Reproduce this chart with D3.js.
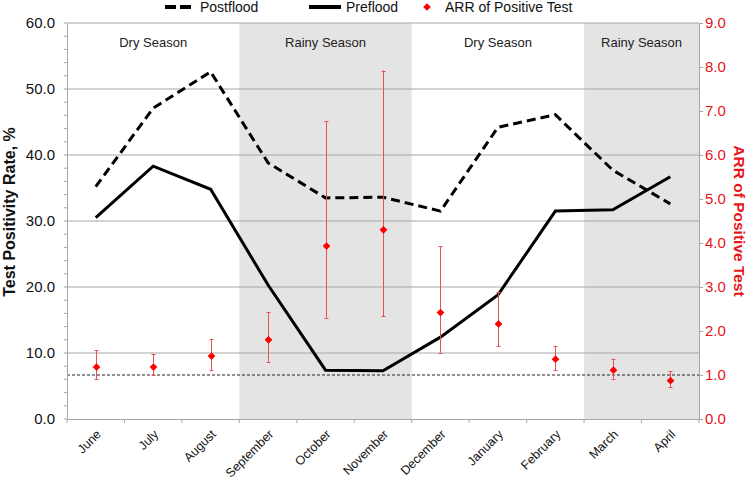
<!DOCTYPE html>
<html><head><meta charset="utf-8">
<script src="https://cdn.jsdelivr.net/npm/d3@7"></script>
<style>body{margin:0;background:#fff}svg{display:block;font-family:"Liberation Sans",Arial,sans-serif}</style>
</head><body><svg id="c" width="750" height="481"></svg>
<script>
const months = ["June","July","August","September","October","November","December","January","February","March","April"];
const postflood = [35.2,47.1,52.6,38.8,33.5,33.6,31.5,44.2,46.1,37.7,32.6];
const preflood = [30.5,38.3,34.8,20.3,7.4,7.3,12.4,18.8,31.5,31.7,36.7];
const arr = [1.18,1.18,1.43,1.80,3.93,4.30,2.42,2.16,1.36,1.11,0.87];
const arrLow = [0.91,1.00,1.11,1.30,2.30,2.34,1.51,1.66,1.11,0.92,0.73];
const arrHigh = [1.57,1.48,1.82,2.43,6.77,7.92,3.93,2.89,1.66,1.37,1.08];
const seasons = [
  {label:"Dry Season", from:"June", to:"August", shaded:false},
  {label:"Rainy Season", from:"September", to:"November", shaded:true},
  {label:"Dry Season", from:"December", to:"February", shaded:false},
  {label:"Rainy Season", from:"March", to:"April", shaded:true}
];
const leftTicks = [0,10,20,30,40,50,60];
const rightTicks = [0,1,2,3,4,5,6,7,8,9];
const refLine = 1.0;

const svg = d3.select("#c");
const L = 67, R = 699, T = 23, B = 419;
const x = d3.scaleBand().domain(months).range([L,R]).padding(0);
const y = d3.scaleLinear().domain([0,60]).range([B,T]);
const y2 = d3.scaleLinear().domain([0,9]).range([B,T]);
const cx = m => x(m) + x.bandwidth()/2;

// shaded seasons
seasons.filter(s=>s.shaded).forEach(s=>{
  svg.append("rect").attr("x",x(s.from)).attr("y",T)
    .attr("width",x(s.to)+x.bandwidth()-x(s.from)).attr("height",B-T)
    .attr("fill","#e4e4e4");
});
// gridlines
svg.append("g").selectAll("line").data(leftTicks.filter(d=>d>0)).join("line")
  .attr("x1",L).attr("x2",R).attr("y1",d=>y(d)).attr("y2",d=>y(d))
  .attr("stroke","#a6a6a6").attr("stroke-width",1);
// season labels
svg.append("g").selectAll("text").data(seasons).join("text")
  .attr("x",s=>(x(s.from)+x(s.to)+x.bandwidth())/2).attr("y",47)
  .attr("text-anchor","middle").attr("font-size",13).attr("fill","#222")
  .text(s=>s.label);
// ref line
svg.append("line").attr("x1",L).attr("x2",R).attr("y1",y2(refLine)).attr("y2",y2(refLine))
  .attr("stroke","#222").attr("stroke-width",1).attr("stroke-dasharray","3,2");

// left axis
const la = svg.append("g").attr("transform",`translate(${L},0)`)
  .call(d3.axisLeft(y).tickValues(leftTicks).tickFormat(d3.format(".1f")).tickSize(0).tickPadding(12));
la.select(".domain").attr("stroke","#a6a6a6");
la.selectAll("text").attr("font-size",15).attr("fill","#111").attr("font-family","Liberation Sans, Arial");
// minor ticks
svg.append("g").selectAll("line").data(d3.range(0,61,2)).join("line")
  .attr("x1",L-3).attr("x2",L).attr("y1",d=>y(d)).attr("y2",d=>y(d))
  .attr("stroke","#a6a6a6");

// right axis
const ra = svg.append("g").attr("transform",`translate(${R},0)`)
  .call(d3.axisRight(y2).tickValues(rightTicks).tickFormat(d3.format(".1f")).tickSize(4).tickPadding(2));
ra.select(".domain").attr("stroke","#a6a6a6");
ra.selectAll(".tick line").attr("stroke","#a6a6a6");
ra.selectAll("text").attr("font-size",15).attr("fill","#e8141a").attr("font-family","Liberation Sans, Arial");

// bottom axis
const ba = svg.append("g").attr("transform",`translate(0,${B})`)
  .call(d3.axisBottom(x).tickSize(0).tickPadding(0));
ba.select(".domain").attr("stroke","#a6a6a6");
ba.selectAll(".tick text").attr("font-size",12.5).attr("fill","#111")
  .attr("text-anchor","end").attr("dy",0).attr("y",0)
  .attr("transform","translate(6,16) rotate(-45)");
svg.append("g").selectAll("line").data(d3.range(months.length+1)).join("line")
  .attr("x1",i=>L+i*x.bandwidth()).attr("x2",i=>L+i*x.bandwidth())
  .attr("y1",B).attr("y2",B+4).attr("stroke","#a6a6a6");

// axis titles
svg.append("text").attr("transform",`translate(14.5,212) rotate(-90)`)
  .attr("text-anchor","middle").attr("font-weight","bold").attr("font-size",16).attr("fill","#111")
  .text("Test Positivity Rate, %");
svg.append("text").attr("transform",`translate(734,221) rotate(90)`)
  .attr("text-anchor","middle").attr("font-weight","bold").attr("font-size",15.5).attr("fill","#e8141a")
  .text("ARR of Positive Test");

// lines
const line = d3.line().x((d,i)=>cx(months[i])).y(d=>y(d));
svg.append("path").datum(postflood).attr("d",line).attr("fill","none")
  .attr("stroke","#000").attr("stroke-width",3).attr("stroke-dasharray","9,5");
svg.append("path").datum(preflood).attr("d",line).attr("fill","none")
  .attr("stroke","#000").attr("stroke-width",3);

// error bars
const eb = svg.append("g");
months.forEach((m,i)=>{
  const X = Math.round(cx(m)) + 0.5;
  eb.append("line").attr("x1",X).attr("x2",X).attr("y1",y2(arrLow[i])).attr("y2",y2(arrHigh[i]))
    .attr("stroke","#ea4f57").attr("stroke-width",1);
  [arrLow[i],arrHigh[i]].forEach(v=>eb.append("line").attr("x1",X-2).attr("x2",X+2)
    .attr("y1",Math.round(y2(v))+0.5).attr("y2",Math.round(y2(v))+0.5).attr("stroke","#ea4f57").attr("stroke-width",1));
});
svg.append("g").selectAll("path").data(arr).join("path")
  .attr("transform",(d,i)=>`translate(${Math.round(cx(months[i]))+0.5},${y2(d)}) rotate(45)`)
  .attr("d",d3.symbol().type(d3.symbolSquare).size(30)).attr("fill","#f00");

// legend
const lg = svg.append("g");
lg.append("line").attr("x1",165).attr("x2",195).attr("y1",7).attr("y2",7)
  .attr("stroke","#000").attr("stroke-width",4).attr("stroke-dasharray","11,4");
lg.append("text").attr("x",200).attr("y",12).attr("font-size",14).attr("fill","#111").text("Postflood");
lg.append("line").attr("x1",309).attr("x2",341).attr("y1",7).attr("y2",7)
  .attr("stroke","#000").attr("stroke-width",4);
lg.append("text").attr("x",346).attr("y",12).attr("font-size",14).attr("fill","#111").text("Preflood");
lg.append("path").attr("transform","translate(427,7) rotate(45)")
  .attr("d",d3.symbol().type(d3.symbolSquare).size(30)).attr("fill","#f00");
lg.append("text").attr("x",445).attr("y",12).attr("font-size",14).attr("fill","#111").text("ARR of Positive Test");
</script></body></html>
